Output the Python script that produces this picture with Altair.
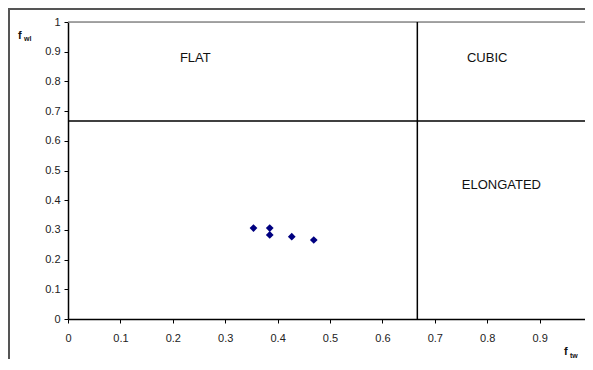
import altair as alt
import pandas as pd

# Data points (f_tw, f_wl)
f_tw = [0.354, 0.385, 0.385, 0.427, 0.469]
f_wl = [0.306, 0.306, 0.283, 0.277, 0.266]

# Region labels
region_names = ["FLAT", "CUBIC", "ELONGATED"]
region_x = [0.243, 0.800, 0.827]
region_y = [0.880, 0.879, 0.451]

# Boundary value
boundary = [2 / 3]

W, H = 517, 297
RANGE_W = 524

pts = pd.DataFrame({"f_tw": f_tw, "f_wl": f_wl})
regions = pd.DataFrame({"name": region_names, "x": region_x, "y": region_y})
bnd = pd.DataFrame({"v": boundary})

xscale = alt.Scale(domain=[0, 1], nice=False, range=[0, RANGE_W])
yscale = alt.Scale(domain=[0, 1], nice=False)

tick_vals = [round(i / 10, 1) for i in range(11)]

xaxis = alt.Axis(values=tick_vals, format=".1~f", grid=False,
                 title=None, tickSize=4, tickColor="black", domainColor="black",
                 domainWidth=1.5, labelPadding=9, labelFontSize=11,
                 labelColor="#222", labelFont="Liberation Sans", labelFlush=False,
                 labelOverlap=False)
yaxis = alt.Axis(values=tick_vals, format=".1~f", grid=False,
                 title=None, tickSize=4, tickColor="black", domainColor="black",
                 domainWidth=1.5, labelPadding=4, labelFontSize=11,
                 labelColor="#222", labelFont="Liberation Sans",
                 labelOverlap=False, labelFlush=False)

points = alt.Chart(pts).mark_point(shape="diamond", filled=True, color="#000080",
                                   size=60, opacity=1).encode(
    x=alt.X("f_tw:Q", scale=xscale, axis=xaxis),
    y=alt.Y("f_wl:Q", scale=yscale, axis=yaxis),
)

hline = alt.Chart(bnd).mark_rule(color="black", strokeWidth=1.5).encode(
    y=alt.Y("v:Q", scale=yscale, axis=yaxis))
vline = alt.Chart(bnd).mark_rule(color="black", strokeWidth=1.5).encode(
    x=alt.X("v:Q", scale=xscale, axis=xaxis))

labels = alt.Chart(regions).mark_text(fontSize=13, font="Liberation Sans",
                                      color="#111").encode(
    x=alt.X("x:Q", scale=xscale, axis=xaxis),
    y=alt.Y("y:Q", scale=yscale, axis=yaxis), text="name:N")

one = pd.DataFrame({"a": [0]})
frame = alt.Chart(one).mark_rect(
    fillOpacity=0, stroke="#555", strokeWidth=2).encode(
    x=alt.value(-59), x2=alt.value(W + 100), y=alt.value(-13), y2=alt.value(H + 200))

top_border = alt.Chart(one).mark_rule(color="#888", strokeWidth=1.5).encode(
    x=alt.value(0), x2=alt.value(RANGE_W), y=alt.value(0))

def txt(s, x, y, size, bold=True):
    return alt.Chart(one).mark_text(text=s, fontSize=size, fontWeight="bold" if bold else "normal",
                                    font="Liberation Sans", color="#111",
                                    align="left", baseline="alphabetic").encode(
        x=alt.value(x), y=alt.value(y))

titles = (txt("f", -50, 17, 11) + txt("wl", -44, 19, 7)
          + txt("f", 496, 333, 11) + txt("tw", 502, 336, 7))

chart = alt.layer(frame, top_border, hline, vline, points, labels, titles).properties(
    width=W, height=H,
    padding={"left": 60, "top": 14, "right": 0, "bottom": 40},
    autosize=alt.AutoSizeParams(type="none"),
).configure_view(stroke=None).configure(background="white")

chart.save("out.html", embed_options={"renderer": "svg", "actions": False})
